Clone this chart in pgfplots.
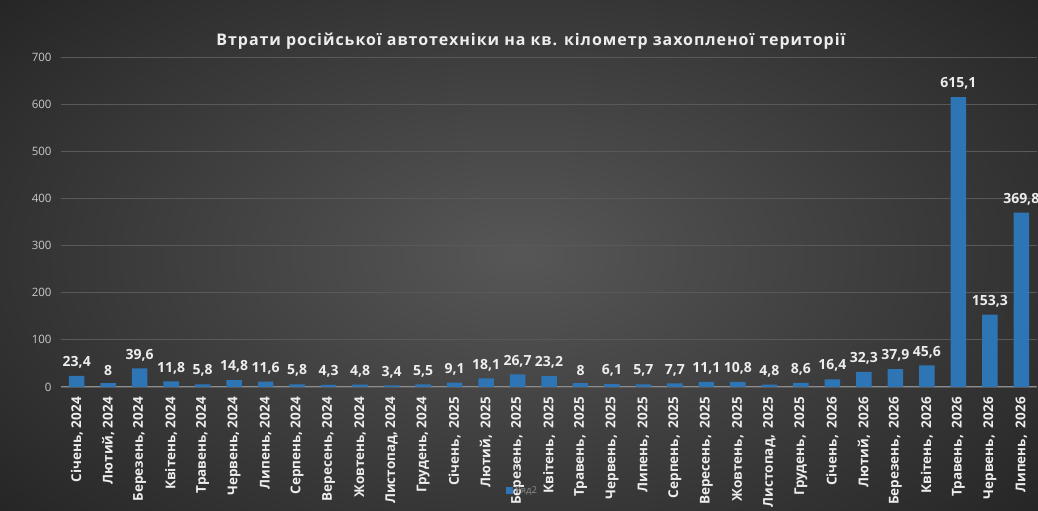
\documentclass[border=0pt]{standalone}
\usepackage{fontspec}
\setmainfont{Open Sans}
\newfontfamily\titlefont[LetterSpace=6]{Open Sans}
\usepackage{pgfplots}
\pgfplotsset{compat=1.18}
\definecolor{barblue}{HTML}{2E75B6}
\definecolor{gridc}{HTML}{595959}
\definecolor{tickc}{HTML}{C8C8C8}
\definecolor{labc}{HTML}{EDEDED}
\begin{document}
\begin{tikzpicture}[x=1bp,y=1bp]
\path[use as bounding box] (0,0) rectangle (1038,511);
\shade[inner color=black!66, outer color=black!86] (-200,-150) rectangle (1238,661);
\begin{axis}[
  at={(61bp,124bp)}, anchor=south west,
  scale only axis, width=976bp, height=330bp,
  ymin=0, ymax=700, ytick={0,100,...,700},
  xmin=-0.5, xmax=30.5,
  separate axis lines,
  axis x line*=bottom, axis y line*=left,
  y axis line style={draw=none},
  ymajorgrids, grid style={gridc, line width=0.8pt},
  x axis line style={draw=black!45, line width=1pt},
  major tick length=0pt,
  xtick={0,...,30},
  xticklabels={{Січень, 2024},{Лютий, 2024},{Березень, 2024},{Квітень, 2024},{Травень, 2024},{Червень, 2024},{Липень, 2024},{Серпень, 2024},{Вересень, 2024},{Жовтень, 2024},{Листопад, 2024},{Грудень, 2024},
    {Січень,\ \ 2025},{Лютий,\ \ 2025},{Березень,\ \ 2025},{Квітень,\ \ 2025},{Травень,\ \ 2025},{Червень,\ \ 2025},{Липень,\ \ 2025},{Серпень,\ \ 2025},{Вересень,\ \ 2025},{Жовтень,\ \ 2025},{Листопад,\ \ 2025},{Грудень,\ \ 2025},
    {Січень,\ \ 2026},{Лютий,\ \ 2026},{Березень,\ \ 2026},{Квітень,\ \ 2026},{Травень,\ \ 2026},{Червень,\ \ 2026},{Липень,\ \ 2026}},
  xticklabel style={rotate=90, anchor=east, font=\fontsize{13.5bp}{16bp}\selectfont\bfseries, text=labc, inner sep=0pt},
  xticklabel shift=10bp,
  yticklabel style={font=\fontsize{11.5bp}{12bp}\selectfont, text=tickc, xshift=-6bp},
  /pgf/number format/assume math mode=true,
  /pgf/number format/use comma,
  /pgf/number format/1000 sep={},
  clip=false,
  legend style={at={(0.473,-0.315)}, anchor=center, draw=none, fill=none,
    font=\fontsize{9.5bp}{10bp}\selectfont, text=black!45, inner sep=0pt,
    legend cell align=left},
  legend image code/.code={\fill[barblue] (0bp,-3.5bp) rectangle (7bp,3.5bp);},
]
\addplot[ybar, bar width=15.5bp, fill=barblue, draw=none,
  nodes near coords, point meta=y,
  every node near coord/.append style={font=\fontsize{14bp}{16bp}\selectfont\bfseries, text=labc,
    /pgf/number format/fixed, /pgf/number format/precision=1, anchor=south, yshift=4bp}]
coordinates {
(0,23.4) (1,8) (2,39.6) (3,11.8) (4,5.8) (5,14.8) (6,11.6) (7,5.8) (8,4.3) (9,4.8) (10,3.4) (11,5.5)
(12,9.1) (13,18.1) (14,26.7) (15,23.2) (16,8) (17,6.1) (18,5.7) (19,7.7) (20,11.1) (21,10.8) (22,4.8) (23,8.6)
(24,16.4) (25,32.3) (26,37.9) (27,45.6) (28,615.1) (29,153.3) (30,369.8)
};
\addlegendentry{Ряд2}
\end{axis}
\node[font=\titlefont\fontsize{16bp}{18bp}\selectfont\bfseries, text=labc] at (531,470) {Втрати російської автотехніки на кв. кілометр захопленої території};
\end{tikzpicture}
\end{document}
